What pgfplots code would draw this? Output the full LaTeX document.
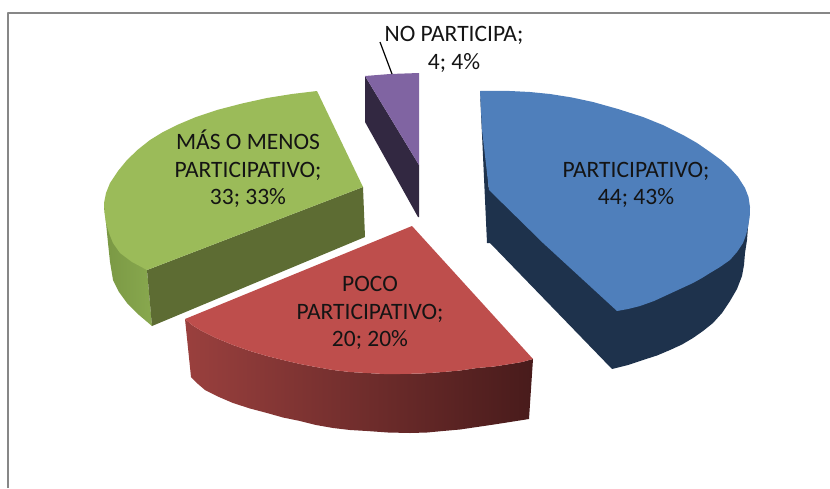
\documentclass[border=0pt]{standalone}
\usepackage{fontspec}
\setmainfont{Carlito}
\usepackage{pgfplots}
\pgfplotsset{compat=1.18}
\definecolor{bluetop}{RGB}{79,127,187}
\definecolor{blueside}{RGB}{30,50,76}
\definecolor{redtop}{RGB}{190,78,76}
\definecolor{redL}{RGB}{154,64,62}
\definecolor{redR}{RGB}{72,27,27}
\definecolor{greentop}{RGB}{155,187,89}
\definecolor{greenface}{RGB}{93,108,51}
\definecolor{greenL}{RGB}{122,152,68}
\definecolor{greenR}{RGB}{136,168,78}
\definecolor{purpletop}{RGB}{128,100,162}
\definecolor{purpleside}{RGB}{50,40,65}
\definecolor{framegray}{RGB}{135,135,135}
\newcommand{\lab}[3]{\node[align=center,font=\fontsize{23.5}{27.5}\selectfont,text=black!92,inner sep=0pt] at (axis cs:#1,#2) {#3};}
\begin{document}
\begin{tikzpicture}
\path[use as bounding box] (0,0) rectangle (830pt,488pt);
\begin{axis}[
  at={(0,0)}, anchor=south west,
  scale only axis, width=830pt, height=488pt,
  xmin=0, xmax=830, ymin=0, ymax=488, y dir=reverse,
  hide axis, clip=true,
  every axis plot/.append style={draw=none, mark=none, line join=round},
]
% frame
\addplot[draw=framegray, line width=2pt] coordinates {(8,488) (8,13) (830,13)};
% blue
\addplot[fill=blueside] coordinates {(480,91) (487,243) (490,243) (612,369) (628,365) (643,360) (657,355.5) (670,350) (682,344.5) (693,338) (703,331) (713,323) (722,313) (730,301) (737,289) (742,276) (744,265) (745,253) (747,240) (748,227) (750,207) (489,190)} --cycle;
\addplot[fill=bluetop] coordinates {(480,91) (495,90.8) (510,91) (530,92) (550,94) (572,97.5) (593,102) (618,109) (643,117) (664,125.5) (683,135) (697,143) (710,152) (721,160) (730,168) (738,177) (745,188) (748.5,197) (750,207) (749.7,217) (748,227) (746,235) (743,243) (737,252) (730,260) (720,267) (710,273) (702,278) (693,283) (680,289) (667,295) (654,301) (640,306) (628,309) (617,311) (543,243) (489,190) (482,130)} --cycle;
% purple
\addplot[fill=purpleside] coordinates {(365,76) (365,122) (418,217) (419,217) (419,165)} --cycle;
\addplot[fill=purpletop] coordinates {(365,76) (390,74) (419,73) (419,165)} --cycle;
% green
\addplot[left color=greenL, right color=greenR] coordinates {(104,203) (106,223) (108,243) (110,262) (113,280) (119,292) (127,303) (139,315) (152,326) (147,270)} --cycle;
\addplot[fill=greenface] coordinates {(147,270) (363,187) (365,237) (152,326)} --cycle;
\addplot[fill=greentop] coordinates {(317,91) (292,94) (267,98) (242,103.5) (217,110) (196,117) (177,125) (163,132) (150,140) (138,149.5) (127,160) (118,171) (110,183) (106,193) (104,203) (104.5,213) (106,223) (109,233) (113,243) (120,253) (132,262) (147,270) (363,187)} --cycle;
% red
\addplot[left color=redL, right color=redR] coordinates {(185,319) (192,325) (200,330) (216,338) (233,345) (250,351) (267,356) (283,360) (300,364) (316,367) (333,370) (350,372) (367,373) (384,374) (400,374) (422,373.5) (443,372) (460,370.5) (477,368) (494,366.5) (510,364) (522,362) (533,359) (529,419) (510,422) (494,424.5) (477,427) (460,429.5) (443,431) (427,432.5) (410,433) (388,432.5) (367,431) (350,430) (333,428) (316,425) (300,421) (283,417.5) (267,413) (250,408.5) (233,403) (219,397) (205,390) (198,384) (191,377)} --cycle;
\addplot[fill=redtop] coordinates {(412,226) (185,319) (192,325) (200,330) (216,338) (233,345) (250,351) (267,356) (283,360) (300,364) (316,367) (333,370) (350,372) (367,373) (384,374) (400,374) (422,373.5) (443,372) (460,370.5) (477,368) (494,366.5) (510,364) (522,362) (533,359)} --cycle;
% leader
\addplot[draw=black, line width=1.2pt] coordinates {(380,42) (392,74)};
% labels
\lab{454}{49.5}{NO PARTICIPA;\\4; 4\%}
\lab{248}{169}{MÁS O MENOS\\PARTICIPATIVO;\\33; 33\%}
\lab{636}{185}{PARTICIPATIVO;\\44; 43\%}
\lab{370}{313}{POCO\\PARTICIPATIVO;\\20; 20\%}
\end{axis}
\end{tikzpicture}
\end{document}
